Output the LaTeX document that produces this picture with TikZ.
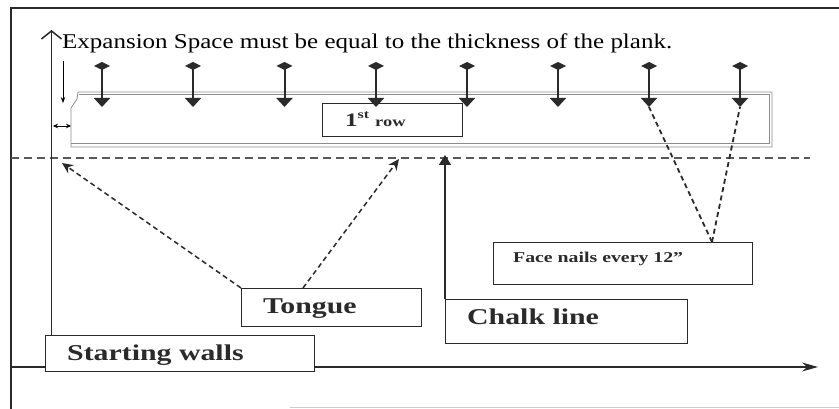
\documentclass[tikz,border=0pt]{standalone}
\usepackage{fontspec}
\setmainfont{Liberation Serif}
\newfontfamily\expfont[FakeStretch=1.19]{Liberation Serif}
\newfontfamily\boxfont[FakeStretch=1.32]{Liberation Serif}
\usetikzlibrary{arrows.meta}
\definecolor{ink}{HTML}{2A2A2A}
\tikzset{
  frameline/.style={draw=ink, line width=1.3pt},
  boxnode/.style={draw=ink, line width=1.4pt, fill=white, anchor=north west, inner sep=0pt},
  boxtext/.style={anchor=base west, inner sep=0pt, text=ink, font=\boxfont\bfseries},
  plank/.style={draw=black!45, line width=0.8pt},
  chalkdash/.style={draw=black!65, line width=1.3pt, dash pattern=on 8pt off 5pt},
  pointer/.style={draw=ink, line width=1.5pt, dash pattern=on 5pt off 3.5pt, -{Stealth[length=11pt,width=10pt]}},
  nailptr/.style={draw=ink, line width=1.8pt, dash pattern=on 5pt off 3.5pt},
  nail/.style={draw=ink, line width=2pt, {Diamond[length=8pt,width=16pt]}-{Triangle[length=9pt,width=16pt]}},
}
\begin{document}
\begin{tikzpicture}[x=1pt,y=-1pt]
\useasboundingbox (0,0) rectangle (839,409);
% frame
\coordinate (fTL) at (11,8);
\coordinate (fTR) at (839,8);
\coordinate (fBL) at (11,409);
\draw[frameline] (fTR) -- (fTL) -- (fBL);
\coordinate (fB1) at (290,407);
\coordinate (fB2) at (839,407);
\draw[draw=black!20, line width=0.8pt] (fB1) -- (fB2);

% floor axis
\coordinate (ax1) at (11,367);
\coordinate (ax2) at (818,367);
\draw[draw=ink, line width=1.2pt, -{Stealth[length=16pt,width=9pt]}] (ax1) -- (ax2);

% plank
\draw[plank] (78,92) -- (772,92) -- (772,147) -- (71,147) -- (71,108) -- (77,99) -- cycle;
\draw[plank] (79,94.5) -- (769.5,94.5) -- (769.5,143) -- (71,143);

% chalk line (dashed)
\coordinate (cl1) at (11,158);
\coordinate (cl2) at (810,158);
\draw[chalkdash] (cl1) -- (cl2);

% boxes
\node[boxnode, minimum width=269pt, minimum height=36pt] (sw) at (45,335) {};
\node[boxnode, minimum width=180pt, minimum height=38pt] (tg) at (241,288) {};
\node[boxnode, minimum width=242pt, minimum height=44pt] (ch) at (445,299) {};
\node[boxnode, minimum width=259pt, minimum height=42pt] (fn) at (493,242) {};
\node[boxnode, minimum width=140pt, minimum height=33pt] (rw) at (322,103) {};

% box texts
\node[boxtext, font=\boxfont\bfseries\fontsize{22.6}{24}\selectfont] (swt) at (67,360) {Starting walls};
\node[boxtext, font=\boxfont\bfseries\fontsize{22.6}{24}\selectfont] (tgt) at (263,313) {Tongue};
\node[boxtext, font=\boxfont\bfseries\fontsize{22.6}{24}\selectfont] (cht) at (467,324) {Chalk line};
\node[boxtext, font=\boxfont\bfseries\fontsize{15}{16}\selectfont] (fnt) at (513,262) {Face nails every 12”};
\node[boxtext] (rwt) at (345,127) {{\fontsize{19}{20}\selectfont 1}\raisebox{8pt}{\fontsize{12}{12}\selectfont st}\hspace{6pt}{\fontsize{14}{15}\selectfont row}};

% heading
\node[anchor=base west, inner sep=0pt, text=black, font=\expfont\fontsize{21}{22}\selectfont] (exp) at (62,49) {Expansion Space must be equal to the thickness of the plank.};

% wall line with open arrow
\coordinate (wallTop) at (51.5,30);
\draw[draw=ink, line width=1.5pt, -{Straight Barb[length=8pt,width=20pt]}] (sw.north west -| wallTop) -- (wallTop);

% expansion gap arrows
\coordinate (ea1) at (63,61);
\coordinate (ea2) at (63,103);
\draw[draw=black, line width=0.8pt, -{Stealth[length=6pt,width=4.5pt]}] (ea1) -- (ea2);
\coordinate (eh1) at (53,126);
\coordinate (eh2) at (71,126);
\draw[draw=black, line width=0.8pt, {Stealth[length=5pt,width=4.5pt]}-{Stealth[length=5pt,width=4.5pt]}] (eh1) -- (eh2);

% nails
\foreach \i/\x in {1/102,2/193,3/284.5,4/376,5/467,6/558,7/649,8/740}{
  \coordinate (nt\i) at (\x,62);
  \coordinate (nb\i) at (\x,107);
  \draw[nail] (nt\i) -- (nb\i);
}

% tongue pointers
\coordinate (tgR) at (303,288);
\coordinate (tip1) at (62,163);
\coordinate (tip2) at (399,159);
\draw[pointer] (tg.north west) -- (tip1);
\draw[pointer] (tgR) -- (tip2);

% chalk pointer
\coordinate (chTip) at (445,155);
\draw[draw=ink, line width=1.8pt, -{Triangle[length=10pt,width=12pt]}] (ch.north west) -- (chTip);

% face nail pointers
\coordinate (fnTop) at (712,242);
\draw[nailptr] (fnTop) -- (nb7);
\draw[nailptr] (fnTop) -- (nb8);
\end{tikzpicture}
\end{document}
